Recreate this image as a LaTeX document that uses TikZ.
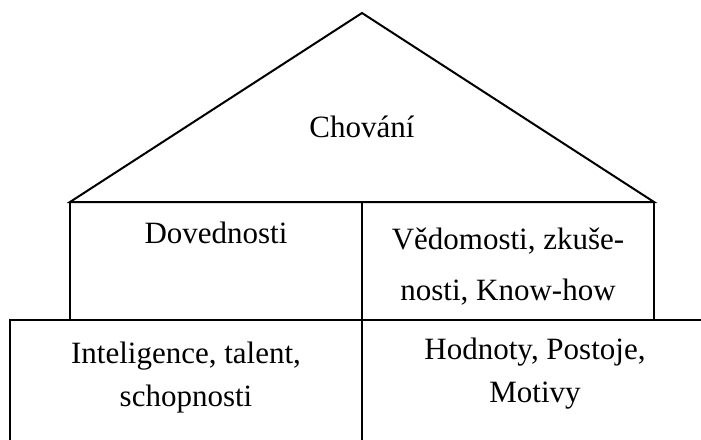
\documentclass[tikz,border=0pt]{standalone}
\usepackage{fontspec}
\setmainfont{Liberation Serif}
\tikzset{
  wall/.style={line width=2pt, line join=miter},
  label/.style={align=center, anchor=base, inner sep=0pt, font=\fontsize{31}{51}\selectfont},
  lowlabel/.style={label, font=\fontsize{31}{43}\selectfont}
}
\begin{document}
\begin{tikzpicture}[x=1pt,y=1pt,yscale=-1,xscale=1]
\useasboundingbox (0,0) rectangle (701,439);

%Roof
\coordinate (apex) at (362,13);
\coordinate (eaveL) at (70,202);
\coordinate (eaveR) at (654,202);
\draw[wall] (eaveL) -- (apex) -- (eaveR) -- cycle ;
%Upper storey
\coordinate (floorL) at (70,320);
\coordinate (floorR) at (654,320);
\coordinate (midtop) at (362,202);
\draw[wall] (eaveL) -- (floorL) ;
\draw[wall] (eaveR) -- (floorR) ;
\draw[wall] (midtop) -- (362,320) ;
%Foundation
\coordinate (baseL) at (9.5,320);
\coordinate (baseR) at (701,320);
\draw[wall] (9.5,440) -- (baseL) -- (baseR) ;
\draw[wall] (362,320) -- (362,440) ;

%base anchor sits on the last line
\node[label] (chovani) at (362,137) {Chování};
\node[label] (dovednosti) at (216,243) {Dovednosti};
\node[label] (vedomosti) at (508,300) {Vědomosti, zkuše-\\nosti, Know-how};
\node[lowlabel] (inteligence) at (186,406) {Inteligence, talent,\\schopnosti};
\node[lowlabel] (hodnoty) at (535,402) {Hodnoty, Postoje,\\Motivy};
\end{tikzpicture}
\end{document}
